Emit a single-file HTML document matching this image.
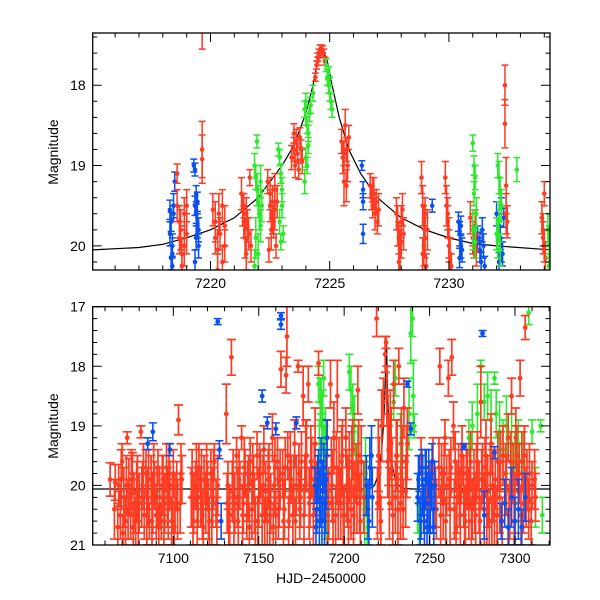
<!DOCTYPE html>
<html><head><meta charset="utf-8"><style>
html,body{margin:0;padding:0;background:#fff}
svg{display:block}
text{font-family:"Liberation Sans",sans-serif;fill:#000}
</style></head><body>
<svg id="chart" width="600" height="600" viewBox="0 0 600 600" xmlns="http://www.w3.org/2000/svg">
<defs>
<clipPath id="clipTop"><rect x="92.7" y="33" width="457.3" height="237"/></clipPath>
<clipPath id="clipBot"><rect x="92.7" y="306.7" width="457.3" height="238.3"/></clipPath>
</defs>
<g id="top"></g>
<g id="bot"></g>
<text x="0" y="0" transform="translate(58,152) rotate(-90)" text-anchor="middle" font-size="14">Magnitude</text>
<text x="0" y="0" transform="translate(58,426) rotate(-90)" text-anchor="middle" font-size="14">Magnitude</text>
<text x="321" y="583" text-anchor="middle" font-size="14">HJD−2450000</text>
</svg>
<script>
// ---- data: [t, mag, err] flattened ----
const topBlue=[7218.3,19.55,.12,7218.35,19.7,.12,7218.3,19.85,.15,7218.4,20.0,.15,7218.35,20.15,.15,7218.4,20.25,.12,7218.45,19.6,.1,7218.5,19.2,.12,7218.45,19.5,.15,7218.4,20.1,.2,
7219.3,19.0,.08,7219.35,19.05,.08,7219.4,19.35,.1,7219.35,19.5,.12,7219.4,19.6,.12,7219.45,19.75,.15,7219.4,19.9,.15,7219.5,20.0,.15,7219.35,20.2,.15,7219.45,19.45,.12,7219.5,19.8,.15,
7226.35,19.0,.06,7226.4,19.3,.1,7226.4,19.45,.1,7226.4,19.85,.12,7229.3,19.5,.08,
7230.4,19.7,.12,7230.45,19.85,.15,7230.5,20.0,.15,7230.45,20.15,.12,7230.5,19.75,.12,7230.55,20.05,.15,
7231.2,19.9,.15,7231.3,20.05,.15,7231.35,20.2,.12,7231.4,19.8,.15,7231.45,20.0,.15,7231.5,20.25,.12,7231.3,19.95,.12,
7232.0,19.6,.15,7232.1,19.75,.15,7232.15,19.9,.15,7232.2,20.05,.15,7232.1,20.2,.12,7232.2,19.5,.1,7232.25,20.1,.15,7232.3,19.65,.12];
const topRed=[7218.6,19.1,.12,7218.6,19.5,.2,7218.7,19.7,.2,7218.7,19.9,.2,7218.8,20.1,.2,7218.75,19.8,.25,7218.9,19.6,.2,7218.9,20.0,.25,7219.0,19.5,.2,7219.0,19.85,.25,7218.8,20.25,.2,
7219.65,18.8,.35,7219.65,18.92,.3,7219.65,17.25,.3,
7220.1,19.55,.2,7220.2,19.7,.25,7220.2,19.9,.2,7220.3,20.05,.25,7220.35,19.6,.25,7220.4,19.85,.2,7220.5,20.2,.2,7220.5,19.5,.2,7220.6,19.75,.25,7220.6,20.0,.2,7220.3,20.3,.2,
7221.3,19.35,.2,7221.35,19.55,.2,7221.4,19.7,.2,7221.45,19.9,.25,7221.5,19.6,.2,7221.55,19.75,.2,7221.6,19.85,.2,7221.65,19.15,.1,7221.7,20.0,.2,7221.5,20.1,.2,7221.4,19.5,.15,
7222.4,19.2,.15,7222.5,19.35,.2,7222.5,19.5,.2,7222.6,19.45,.2,7222.6,19.65,.2,7222.7,19.55,.25,7222.7,19.3,.2,7222.8,19.45,.2,7222.55,19.8,.25,7222.45,20.05,.15,7222.75,20.0,.15,7222.65,19.7,.2,
7223.4,18.9,.15,7223.5,18.8,.15,7223.55,19.0,.15,7223.6,18.7,.15,7223.65,18.85,.12,7223.7,19.05,.12,7223.75,18.65,.12,7223.8,18.8,.12,7223.85,18.95,.15,7223.5,18.6,.12,
7224.4,17.9,.05,7224.45,17.75,.05,7224.5,17.65,.05,7224.55,17.6,.05,7224.6,17.55,.05,7224.65,17.55,.05,7224.7,17.56,.05,7224.75,17.6,.05,7224.8,17.7,.05,7224.5,17.7,.05,7224.6,17.62,.04,
7225.5,18.7,.15,7225.55,18.9,.2,7225.6,19.2,.3,7225.65,18.5,.2,7225.7,18.8,.15,7225.75,19.0,.2,7225.8,18.65,.15,7225.6,18.85,.15,7225.7,19.25,.2,
7226.7,19.25,.15,7226.75,19.4,.15,7226.8,19.5,.15,7226.85,19.35,.2,7226.9,19.6,.2,7226.95,19.45,.15,7227.0,19.7,.15,7227.05,19.55,.2,7226.8,19.3,.15,
7227.8,19.6,.2,7227.85,19.75,.25,7227.9,19.9,.2,7227.95,20.05,.25,7228.0,19.7,.2,7228.05,19.55,.2,7228.1,19.85,.2,7227.9,20.2,.2,7228.0,19.95,.2,
7228.85,19.15,.2,7228.9,19.5,.25,7228.95,19.7,.2,7229.0,19.9,.25,7228.9,20.1,.2,7229.05,20.25,.15,7229.1,19.8,.25,7229.0,19.6,.2,7228.95,20.0,.25,
7229.85,19.15,.2,7229.9,19.5,.25,7229.95,19.7,.2,7230.0,19.9,.25,7230.05,20.1,.2,7230.1,20.25,.15,7229.95,19.6,.2,7230.0,20.0,.2,
7230.9,19.65,.2,7231.0,19.8,.2,7231.05,19.95,.2,7231.1,19.75,.2,7231.15,20.05,.2,7231.0,19.9,.2,
7232.35,18.0,.25,7232.35,18.48,.3,7232.4,19.25,.35,7232.4,19.6,.25,7232.45,19.7,.2,
7233.9,19.65,.2,7233.95,19.8,.2,7234.0,19.35,.15,7234.0,20.0,.2,7234.05,20.15,.2,7233.95,19.9,.2];
const topGreen=[7221.95,18.7,.08,7221.85,19.0,.15,7221.9,19.15,.15,7221.95,19.3,.2,7222.0,19.45,.2,7222.05,19.6,.2,7222.1,19.75,.2,7221.9,19.9,.25,7222.0,20.1,.25,7222.1,19.2,.2,7222.15,19.5,.2,7221.85,20.25,.2,
7222.85,18.8,.08,7222.9,18.9,.1,7222.95,19.1,.12,7223.0,19.3,.15,7223.0,19.5,.15,7222.9,19.7,.15,7223.05,19.85,.1,7222.95,19.95,.1,
7223.95,18.3,.1,7224.0,18.4,.1,7224.05,18.5,.1,7224.1,18.6,.1,7224.0,18.2,.1,7224.15,18.35,.1,7224.2,18.25,.1,7224.3,18.1,.1,7224.1,18.75,.1,7224.0,18.9,.12,7223.95,19.2,.15,7224.05,19.0,.1,
7224.85,17.75,.08,7224.9,17.9,.1,7224.95,18.0,.1,7225.0,18.1,.1,7225.05,18.2,.1,7225.1,18.3,.1,7224.95,17.85,.08,7225.0,18.0,.1,
7231.0,18.72,.1,7231.05,19.0,.12,7231.1,19.15,.15,7231.05,19.35,.15,7231.15,19.6,.2,7231.0,19.8,.25,7231.1,19.95,.2,
7232.05,19.0,.15,7232.1,19.15,.2,7232.15,19.35,.2,7232.2,19.5,.2,7232.1,19.7,.25,7232.05,19.9,.25,7232.15,20.05,.2,7232.0,19.85,.2,
7232.85,19.05,.15,7234.15,19.8,.2,7234.2,19.95,.2,7234.25,20.1,.2,7234.2,20.25,.15];
const botRed=[7063,19.9,.28,7066,19.95,.3,7068,20.0,.35,7069,20.5,.4,7070,19.6,.3,7071,20.2,.5,7072,20.6,.4,7073,19.2,.1,7074,20.0,.45,7075,20.5,.4,7076,19.8,.35,7077,20.3,.5,7078,20.6,.4,7079,19.9,.4,7080,20.3,.5,7081,19.1,.1,7082,20.0,.4,7083,20.5,.4,7084,19.8,.4,7085,20.2,.5,7086,20.6,.3,7087,19.9,.4,7088,20.3,.5,7089,20.0,.4,7090,20.5,.4,7091,19.7,.3,7092,20.2,.5,7093,20.6,.3,7094,19.9,.4,7095,20.3,.5,7096,19.7,.4,7097,20.4,.5,7098,20.0,.4,7099,20.6,.4,7100,19.8,.4,7101,20.3,.5,7102,20.0,.4,7103,18.9,.25,7104,20.3,.5,7105,19.9,.4,
7111,19.8,.4,7112,20.3,.5,7113,20.0,.4,7114,20.6,.4,7115,19.7,.4,7116,20.2,.5,7117,20.5,.4,7118,19.9,.4,7119,20.3,.5,7120,20.0,.4,7121,20.6,.4,7122,19.8,.4,7123,20.2,.5,7124,19.6,.3,7125,20.3,.4,7126,20.0,.5,
7131,18.8,.5,7132,20.0,.4,7134,17.85,.3,7133,20.5,.5,7135,19.8,.4,7136,20.3,.5,7137,19.5,.3,7138,20.6,.4,7139,20.0,.4,7140,19.2,.2,7141,20.3,.5,7142,19.8,.4,7143,20.5,.4,7144,20.0,.5,7145,19.6,.4,7146,20.4,.5,7147,19.9,.4,7148,20.6,.4,7149,19.5,.4,7150,20.2,.5,7151,19.8,.4,7152,20.5,.5,7153,19.4,.4,7154,20.1,.5,7155,20.6,.4,7156,19.7,.4,7157,20.3,.5,7158,19.2,.4,7159,20.0,.5,7160,20.5,.4,7161,19.6,.4,7162,20.2,.5,7163,18.05,.3,7164,19.8,.4,7165,20.4,.5,7166,18.15,.3,7166.5,17.5,.5,7167,19.5,.4,7168,20.2,.5,7169,19.9,.4,7170,20.5,.5,7171,19.3,.4,7172,20.0,.5,7173,18.0,.1,7174,20.4,.5,7175,19.6,.5,7176,18.5,.5,7177,20.0,.5,7178,19.5,.6,7179,18.3,.3,7180,20.2,.5,7181,19.7,.5,7182,20.5,.5,7183,19.3,.6,7184,20.1,.5,7185,17.95,.2,
7190,19.5,.6,7191,20.3,.6,7192,18.3,.4,7193,20.0,.6,7194,19.2,.6,7195,20.5,.5,7196,18.5,.6,7197,19.8,.6,7198,20.3,.6,7199,19.5,.6,7200,20.5,.5,7201,19.2,.5,7202,20.1,.6,7203,19.7,.6,7204,20.4,.5,7205,19.4,.5,7206,20.2,.6,7207,19.8,.5,7208,18.4,.4,7209,20.3,.5,7210,19.6,.6,
7219,17.2,.3,7220,19.5,.6,7221,20.2,.6,7222,19.0,.6,7223,18.6,.4,7224,17.8,.3,7224.5,17.6,.1,7225,18.5,.5,7226,19.4,.6,7227,19.0,.6,7228,19.8,.6,7229,18.3,.4,7230,20.2,.6,7231,19.5,.6,7232,18.0,.3,7233,20.3,.6,7234,19.6,.6,7235,18.7,.5,7236,20.1,.6,7237,19.3,.6,
7245,19.5,.3,7248,19.9,.5,7250,20.2,.6,7252,19.6,.4,7254,20.4,.5,7256,18.0,.3,7257,19.8,.5,7258,20.3,.6,7259,19.2,.3,7260,20.0,.5,7261,18.2,.3,7262,20.4,.6,7263,17.85,.3,7264,19.0,.4,7265,19.6,.5,7266,20.2,.6,7267,19.8,.5,7268,20.5,.5,7269,19.5,.5,7270,20.1,.6,7271,20.6,.4,7272,19.9,.5,7273,20.3,.6,7274,19.6,.5,7275,20.4,.5,7276,19.9,.5,7277,20.5,.5,7278,19.6,.5,7279,20.2,.6,7280,18.6,.6,7281,19.8,.5,7282,20.4,.6,7283,19.5,.6,7284,20.1,.6,7285,20.6,.4,7286,19.3,.5,7287,20.0,.6,7288,20.5,.5,7290,19.6,.5,7291,20.2,.6,7293,19.5,.5,7295,20.0,.5,7296,19.2,.4,7297,20.4,.5,7298,18.5,.3,7299,19.8,.5,7300,20.3,.5,7301,19.5,.5,7302,20.1,.5,7303,18.2,.3,7304,19.6,.5,7305,20.3,.5,7306,17.35,.2,7307,19.9,.5,7308,20.4,.5,7310,20.0,.4,7312,20.2,.4];
const botRed2=[7065.5,20.4,.5,7067.5,20.7,.4,7069.5,19.9,.5,7070.5,20.8,.3,7072.5,20.0,.5,7073.5,20.4,.5,7075.5,19.9,.5,7076.5,20.7,.4,7078.5,20.1,.5,7079.5,20.6,.5,7081.5,20.2,.5,7082.5,19.7,.4,7084.5,20.5,.5,7085.5,19.9,.5,7087.5,20.6,.4,7088.5,19.8,.5,7090.5,20.2,.5,7091.5,20.7,.4,7093.5,20.0,.5,7094.5,20.6,.4,7096.5,20.2,.5,7097.5,19.8,.5,7099.5,20.3,.5,7100.5,20.7,.4,7102.5,20.4,.5,7104.5,19.8,.5,
7110.5,20.2,.5,7111.5,20.6,.4,7113.5,19.8,.5,7114.5,20.2,.5,7116.5,19.9,.5,7117.5,20.7,.4,7119.5,19.8,.5,7120.5,20.4,.5,7122.5,20.6,.4,7123.5,19.9,.5,7125.5,20.6,.4,
7131.5,20.3,.5,7132.5,20.7,.4,7134.5,20.1,.5,7135.5,20.6,.4,7137.5,20.2,.5,7138.5,19.9,.5,7140.5,20.5,.5,7141.5,19.7,.5,7143.5,20.1,.5,7144.5,20.7,.4,7146.5,19.8,.5,7147.5,20.3,.5,7149.5,20.6,.4,7150.5,19.8,.5,7152.5,20.0,.5,7153.5,20.6,.4,7155.5,19.9,.5,7156.5,20.5,.5,7158.5,20.7,.4,7159.5,19.7,.5,7161.5,20.4,.5,7162.5,19.9,.5,7164.5,20.6,.4,7165.5,19.7,.5,7167.5,20.6,.4,7168.5,19.6,.5,7170.5,20.0,.5,7171.5,20.6,.4,7173.5,19.8,.5,7174.5,20.2,.5,7176.5,20.5,.5,7177.5,19.5,.6,7179.5,20.3,.6,7180.5,19.6,.6,7182.5,19.9,.6,
7190.5,20.5,.5,7192.5,19.8,.6,7193.5,20.6,.4,7195.5,19.7,.6,7196.5,20.3,.6,7198.5,19.6,.6,7199.5,20.5,.5,7201.5,20.0,.6,7202.5,20.6,.4,7204.5,19.6,.6,7205.5,20.5,.5,7207.5,20.2,.6,7208.5,19.5,.6,7209.5,20.6,.4,7211.5,20.2,.6,
7219.5,20.3,.6,7220.5,19.8,.6,7221.5,20.6,.4,7225.5,19.6,.6,7226.5,20.3,.6,7227.5,19.3,.6,7228.5,20.5,.5,7230.5,19.5,.6,7231.5,20.4,.6,7233.5,19.3,.6,7234.5,20.4,.5,7236.5,19.6,.6,
7253.5,20.2,.5,7255.5,19.7,.5,7256.5,20.5,.5,7258.5,19.8,.5,7259.5,20.6,.4,7261.5,19.9,.5,7262.5,19.7,.5,7264.5,20.4,.5,7265.5,20.7,.4,7267.5,20.2,.5,7268.5,19.8,.5,7270.5,20.5,.5,7271.5,19.8,.5,7273.5,19.9,.5,7274.5,20.6,.4,7276.5,20.3,.5,7277.5,19.8,.5,7279.5,20.6,.4,7280.5,19.9,.5,7282.5,19.7,.5,7283.5,20.5,.5,7285.5,19.8,.5,7286.5,20.6,.4,7288.5,19.9,.5,7289.5,20.5,.5,7291.5,19.6,.5,7292.5,20.6,.4,7294.5,19.8,.5,7296.5,20.5,.5,7297.5,19.6,.5,7299.5,20.6,.4,7300.5,19.2,.5,7302.5,19.8,.5,7303.5,20.5,.5,7305.5,19.5,.5,7306.5,20.2,.5,7308.5,19.8,.5,7309.5,20.6,.4,7311.5,19.9,.5];
const botBlue=[7085,19.3,.1,7088,19.1,.15,7098,19.4,.1,7126,17.25,.05,7127,19.4,.15,7128,20.6,.3,7152,18.5,.1,7155,18.95,.1,7160,19.05,.1,7163,17.15,.05,7163,17.3,.08,7172,18.95,.1,
7183,20.0,.3,7184,20.4,.4,7185,19.8,.4,7186,20.2,.5,7187,20.6,.4,7188,19.7,.4,7189,20.3,.5,7190,19.2,.3,7183.5,20.7,.3,7184.5,19.9,.4,7185.5,20.6,.4,7186.5,19.6,.4,7187.5,20.1,.5,7188.5,20.6,.4,7189.5,19.9,.5,
7213,20.0,.5,7214,20.4,.5,7214.5,20.6,.4,7215,19.7,.5,7216,19.5,.5,7216.5,20.2,.5,7237,18.3,.05,7239,19.05,.1,
7243,20.2,.4,7244,19.8,.3,7245,20.5,.4,7246,20.0,.5,7247,20.6,.4,7248,19.7,.3,7249,20.3,.5,7250,20.7,.3,7251,20.0,.4,7252,20.4,.4,7243.5,19.9,.4,7244.5,20.6,.4,7245.5,19.7,.3,7246.5,20.4,.4,7247.5,19.9,.5,7248.5,20.7,.3,7249.5,19.8,.4,7250.5,20.3,.5,7251.5,19.6,.3,7252.5,20.7,.3,7253,20.0,.4,
7270,19.35,.05,7281,17.45,.05,7282,20.5,.4,7288,19.45,.1,7292,20.6,.3,7294,20.3,.4,7296,20.7,.3,7298,20.2,.5,7300,20.6,.4,7302,20.4,.5,7304,20.7,.3,7306,20.2,.4];
const botGreen=[7185,18.3,.3,7186,18.6,.4,7187,19.0,.5,7188,18.2,.3,7189,19.2,.5,7186.5,18.5,.3,7187.5,18.9,.5,7188.5,19.6,.6,7189.5,20.2,.7,7185.5,19.5,.6,7203,18.1,.3,7204,18.4,.4,7205,18.7,.4,7206,19.0,.5,7208,19.6,.6,7212,20.3,.7,7212.5,19.8,.6,7213.5,20.5,.5,7214,20.7,.5,7229,18.6,.3,7230,18.2,.3,7233,19.3,.5,7238,18.8,.6,7239,17.45,.5,7240,17.2,.3,7240.5,18.5,.6,7241,19.0,.2,7243,20.3,.5,7244,20.6,.4,
7273,19.2,.3,7275,19.0,.4,7278,18.8,.5,7280,18.0,.1,7282,18.6,.3,7284,18.5,.4,7286,18.9,.5,7288,18.2,.1,7289,18.8,.4,7291,19.1,.5,7293,19.4,.5,7295,19.0,.5,7298,19.3,.5,7300,19.6,.5,7302,19.3,.4,7305,19.6,.5,7308,17.1,.2,7310,19.1,.2,7312,20.2,.5,7315,19.0,.1,7316,20.5,.3];
const modelT=[7050,7100,7200,7210,7215,7217,7218,7219,7220,7221,7222,7222.5,7223,7223.5,7224,7224.3,7224.5,7224.7,7224.9,7225.1,7225.4,7225.8,7226.3,7227,7228,7229,7230,7231,7232,7234.3,7240,7260,7325];
const modelM=[20.06,20.06,20.06,20.06,20.05,20.02,19.98,19.9,19.8,19.65,19.4,19.2,19.0,18.75,18.35,18.0,17.7,17.55,17.7,18.0,18.4,18.8,19.1,19.4,19.65,19.8,19.9,19.97,20.0,20.05,20.06,20.06,20.06];
const topXTicks=[7220,7225,7230], topYTicks=[18,19,20];
const botXTicks=[7100,7150,7200,7250,7300], botYTicks=[17,18,19,20,21];

const NS='http://www.w3.org/2000/svg';
function mk(tag,attrs,parent){const e=document.createElementNS(NS,tag);for(const k in attrs)e.setAttribute(k,attrs[k]);parent.appendChild(e);return e;}
function scale(d0,d1,r0,r1){return v=>r0+(v-d0)/(d1-d0)*(r1-r0);}
const L=92.7,R=550;
function panel(g,x0,x1,y0,y1,top,bot,clip,xt,yt,xminor,yminor,series){
  const X=scale(x0,x1,L,R),Y=scale(y0,y1,top,bot);
  const pg=mk('g',{'clip-path':'url(#'+clip+')'},g);
  
  
  let d='';modelT.forEach((t,i)=>{d+=(i?'L':'M')+X(t).toFixed(2)+' '+Y(modelM[i]).toFixed(2);});
  const ml=mk('path',{d:d,fill:'none',stroke:'#000','stroke-width':1.2},pg);
  
  
  series.forEach(s=>{
    const sg=mk('g',{stroke:s.c,fill:s.c,'stroke-width':s.w},pg);
    
    
    const a=s.d;
    for(let i=0;i<a.length;i+=3){
      const x=X(a[i]),y=Y(a[i+1]),ya=Y(a[i+1]-a[i+2]),yb=Y(a[i+1]+a[i+2]);
      mk('path',{d:`M${x} ${ya}V${yb}M${x-s.cap} ${ya}H${x+s.cap}M${x-s.cap} ${yb}H${x+s.cap}`,fill:'none'},sg);
      const c=mk('circle',{cx:x,cy:y,r:s.r,stroke:'none'},sg);
      
      
    }
  });
  const fr=mk('rect',{x:L,y:top,width:R-L,height:bot-top,fill:'none',stroke:'#000','stroke-width':1.3},g);
  
  
  const tg=mk('g',{stroke:'#000','stroke-width':1},g);
  
  
  for(let v=Math.ceil(x0/xminor)*xminor;v<=x1;v+=xminor){
    const x=X(v),maj=xt.includes(Math.round(v)),len=maj?9:4.5;
    mk('path',{d:`M${x} ${bot}v${-len}M${x} ${top}v${len}`},tg);
  }
  for(let k=Math.ceil(Math.min(y0,y1)/yminor-1e-6);k*yminor<=Math.max(y0,y1)+1e-6;k++){
    const v=k*yminor,y=Y(v),maj=Math.abs(v-Math.round(v))<1e-6&&yt.includes(Math.round(v)),len=maj?9:4.5;
    mk('path',{d:`M${L} ${y}h${len}M${R} ${y}h${-len}`},tg);
  }
  xt.forEach(v=>{const t=mk('text',{x:X(v),y:bot+18,'text-anchor':'middle','font-size':14},g);t.textContent=v;
    
    });
  yt.forEach(v=>{const t=mk('text',{x:L-7,y:Y(v)+5,'text-anchor':'end','font-size':14},g);t.textContent=v;
    
    });
}
const RED='#ff3b22',GRN='#2ee82e',BLU='#0a50f0';
panel(document.getElementById('top'),7215.06,7234.24,17.35,20.3,33,270,'clipTop',topXTicks,topYTicks,1,0.2,
 [{name:'blue-series',d:topBlue,c:BLU,w:1.5,r:2.3,cap:3.5},
  {name:'red-series',d:topRed,c:RED,w:1.5,r:2.3,cap:3.5},
  {name:'green-series',d:topGreen,c:GRN,w:1.5,r:2.3,cap:3.5}]);
panel(document.getElementById('bot'),7052.8,7320.5,17,21,306.7,545,'clipBot',botXTicks,botYTicks,10,0.2,
 [{name:'green-series',d:botGreen,c:GRN,w:1.6,r:2.4,cap:4},
  {name:'red-series',d:botRed,c:RED,w:1.7,r:2.4,cap:4.5},
  {name:'red-series-2',d:botRed2,c:RED,w:1.7,r:2.4,cap:4.5},
  {name:'blue-series',d:botBlue,c:BLU,w:1.6,r:2.4,cap:4}]);
</script>
</body></html>
